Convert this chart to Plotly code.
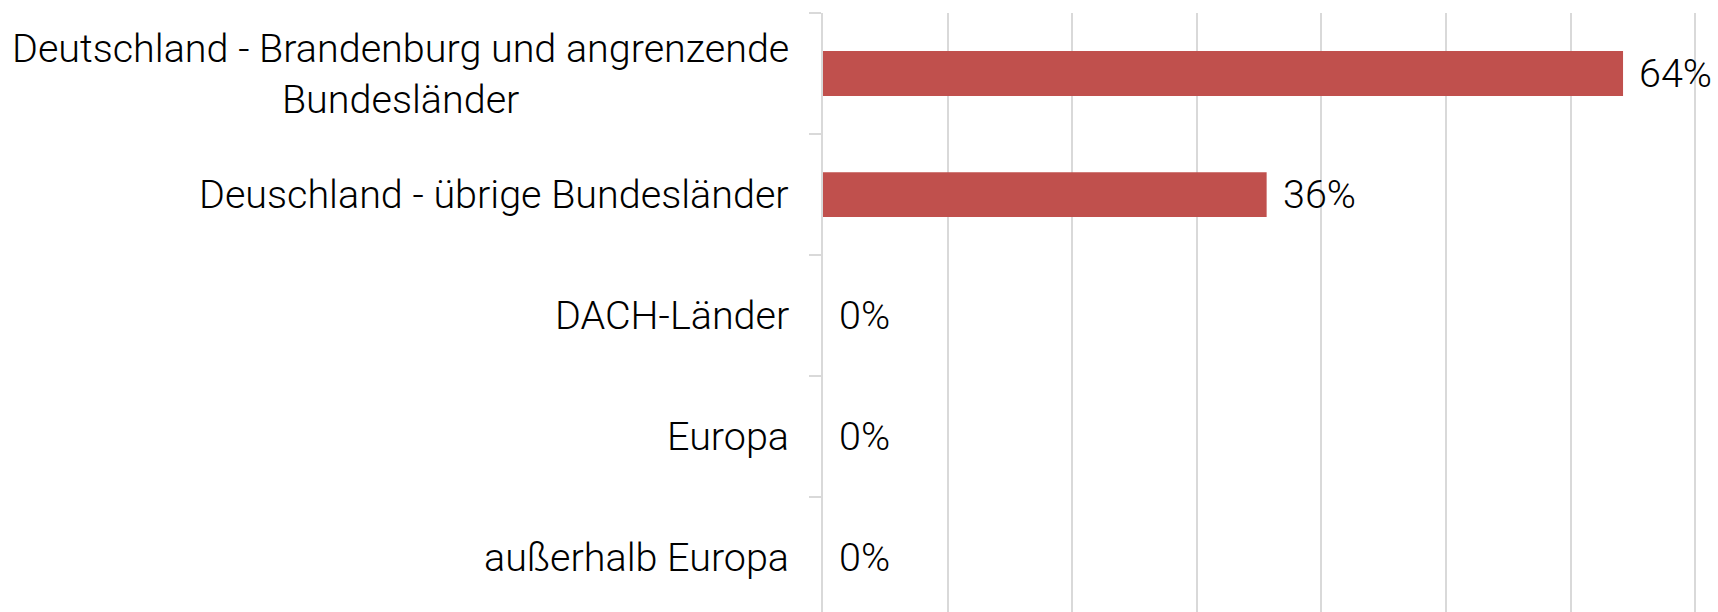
import plotly.graph_objects as go

categories = [
    "Deutschland - Brandenburg und angrenzende<br>Bundesländer",
    "Deuschland - übrige Bundesländer",
    "DACH-Länder",
    "Europa",
    "außerhalb Europa",
]
values = [64.2, 35.6, 0, 0, 0]

FONT = "Roboto, Liberation Sans, Arial, sans-serif"
FS = 39.5
WEIGHT = 300
BAR = "#C0504D"
GRID = "#d9d9d9"

fig = go.Figure()
fig.add_trace(go.Bar(
    y=categories, x=values, orientation="h",
    marker=dict(color=BAR, line=dict(width=0)),
    width=0.37, hoverinfo="skip",
))

ann = []
for c, v in zip(categories, values):
    ann.append(dict(
        x=0, xref="paper", y=c, yref="y", text=c, showarrow=False,
        xanchor="right", yanchor="middle", align="center", xshift=-32,
        font=dict(family=FONT, size=FS, color="#000000", weight=WEIGHT),
    ))
    ann.append(dict(
        x=v, xref="x", y=c, yref="y", text=f"{v:.0f}%", showarrow=False,
        xanchor="left", yanchor="middle", xshift=14,
        font=dict(family=FONT, size=FS, color="#000000", weight=WEIGHT),
    ))

fig.update_layout(
    width=1718, height=612,
    margin=dict(l=823, r=0, t=13, b=0),
    plot_bgcolor="white", paper_bgcolor="white",
    showlegend=False,
    annotations=ann,
    xaxis=dict(
        range=[0, 71.82], dtick=10, tick0=0, showgrid=True,
        gridcolor=GRID, gridwidth=1.5, zeroline=False,
        showticklabels=False, ticks="", showline=False,
    ),
    yaxis=dict(
        type="category", categoryorder="array", categoryarray=categories,
        range=[4.45, -0.5], tickson="boundaries", ticks="outside",
        ticklen=12, tickcolor=GRID, tickwidth=1.5,
        showticklabels=False, showgrid=False, zeroline=False,
        showline=True, linecolor=GRID, linewidth=1.5,
    ),
)

fig.write_html(
    "out.html",
    config={"displayModeBar": False},
    post_script="document.body.style.margin='0';document.body.style.overflow='hidden';",
)
